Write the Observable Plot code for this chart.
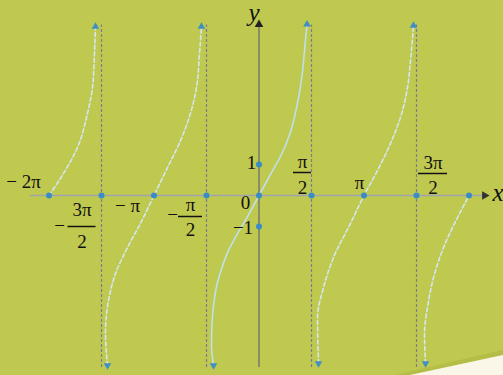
<!DOCTYPE html>
<html><head><meta charset="utf-8">
<script src="https://cdn.jsdelivr.net/npm/d3@7"></script>
<script src="https://cdn.jsdelivr.net/npm/@observablehq/plot@0.6"></script>
<style>
html,body{margin:0;padding:0;background:#bfc84f;width:503px;height:375px;overflow:hidden}
#wrap{position:relative;width:503px;height:375px}
#shade{position:absolute;left:0;top:0;width:503px;height:375px;background:#aeb742;clip-path:polygon(395px 375px,503px 350px,503px 355px,410px 375px);opacity:0.6}
#corner{position:absolute;left:0;top:0;width:503px;height:375px;background:#fbf7e8;clip-path:polygon(410px 375px,503px 355px,503px 375px)}
#chart{position:absolute;left:0;top:0}
#chart text{font-family:"Liberation Serif","Times New Roman",serif}
</style></head>
<body>
<div id="wrap"><div id="shade"></div><div id="corner"></div><div id="chart"></div></div>
<script>
const PI = Math.PI;

// tangent branches (x in radians, y in units)
const branch1X = [-2*PI, -5.850, -5.431, -5.132, -4.982, -4.922, -4.892];
const branch1Y = [0, 0.71, 1.55, 2.65, 3.48, 4.58, 5.45];
const branch2X = [-4.533, -4.593, -4.503, -4.294, -3.935, -3.546, -PI, -2.738, -2.349, -2.050, -1.870, -1.780, -1.721];
const branch2Y = [-5.48, -4.45, -3.39, -2.52, -1.68, -0.90, 0, 0.90, 1.77, 2.65, 3.48, 4.58, 5.45];
const branch3X = [-1.361, -1.421, -1.406, -1.346, -1.257, -1.107, -0.928, -0.658, -0.359, 0, 0.359, 0.658, 0.928, 1.137, 1.287, 1.376, 1.436];
const branch3Y = [-5.48, -4.84, -4.13, -3.42, -2.87, -2.32, -1.81, -1.26, -0.71, 0, 0.71, 1.29, 2.00, 2.90, 3.87, 4.84, 5.52];
const branch4X = [1.780, 1.751, 1.930, 2.229, 2.738, PI, 3.546, 3.935, 4.234, 4.443, 4.533, 4.623];
const branch4Y = [-5.42, -3.94, -2.97, -2.00, -0.90, 0, 0.81, 1.68, 2.52, 3.48, 4.35, 5.48];
const branch5X = [4.982, 4.952, 5.042, 5.222, 5.521, 5.940, 2*PI];
const branch5Y = [-5.42, -4.45, -3.61, -2.65, -1.68, -0.71, 0];

// asymptotes, zeros, unit points
const asymptotes = [-3*PI/2, -PI/2, PI/2, 3*PI/2];
const zeroX = [-2*PI, -3*PI/2, -PI, -PI/2, 0, PI/2, PI, 3*PI/2, 2*PI];
const unitY = [1, -1];

// axis extents
const axisX = [-6.84, 6.72];
const axisY = [-5.55, 5.45];

// labels
const simpleText = ["− 2π", "− π", "0", "π"];
const simpleX = [-2*PI, -PI, 0, PI];
const unitText = ["1", "−1"];
const fracSign = ["−", "−", "", ""];
const fracNum = ["3π", "π", "π", "3π"];
const fracDen = ["2", "2", "2", "2"];
const fracX = [-3*PI/2, -PI/2, PI/2, 3*PI/2];
const axisNames = ["x", "y"];

// ---- layout (pixel offsets) ----
const SX = 420 / (4*PI);
const AX = 195; // axis pixel row
const simpleLayout = [[-25.5, -8], [-26.5, 16], [-13.5, 13], [-4.5, -7]];
const unitLayout = [[-7.5, 4], [-16, 7]];
// [signDx, signBase, cx, numBase, barHalf, barY, denBase]
const fracLayout = [
  [-42, 231, -19.5, 215, 14, 226, 247],
  [-34, 220, -16, 210, 12, 216, 235],
  [0, 0, -9, 167, 9, 172, 193],
  [0, 0, 16.5, 168, 14.5, 173, 193]
];

const serif = "'Liberation Serif', 'Times New Roman', serif";
const tOpts = {fontFamily: serif, fontSize: 19, fill: "#111", lineAnchor: "bottom", textAnchor: "middle"};

function toPts(xs, ys, b) { return xs.map((x, i) => ({x, y: ys[i], b})); }
const dashed = [
  ...toPts(branch1X, branch1Y, 1), ...toPts(branch2X, branch2Y, 2),
  ...toPts(branch4X, branch4Y, 4), ...toPts(branch5X, branch5Y, 5)
];
const solid = toPts(branch3X, branch3Y, 3);

const allBranches = [[branch1X, branch1Y], [branch2X, branch2Y], [branch3X, branch3Y], [branch4X, branch4Y], [branch5X, branch5Y]];
const ends = [];
for (const [bx, by] of allBranches) {
  for (const i of [0, bx.length - 1]) {
    if (by[i] !== 0) ends.push({x: bx[i], y: by[i], up: by[i] > 0});
  }
}

const marks = [];
// asymptotes
marks.push(Plot.ruleX(asymptotes, {y1: axisY[0], y2: axisY[1] + 0.05, stroke: "#7b7d8e", strokeWidth: 1.2, strokeDasharray: "3,2"}));
// axes
marks.push(Plot.ruleY([0], {x1: axisX[0], x2: axisX[1], stroke: "#9ea3ae", strokeWidth: 1.3}));
marks.push(Plot.ruleX([0], {y1: axisY[0], y2: axisY[1], stroke: "#6a6c72", strokeWidth: 1.3}));
marks.push(Plot.dot([{x: axisX[1], y: 0}], {x: "x", y: "y", symbol: "triangle", rotate: 90, r: 3.2, fill: "#333", dx: 1}));
marks.push(Plot.dot([{x: 0, y: axisY[1]}], {x: "x", y: "y", symbol: "triangle", r: 3.2, fill: "#222", dy: -2}));
// curves
marks.push(Plot.line(dashed, {x: "x", y: "y", z: "b", curve: "monotone-y", stroke: "#d4e7ef", strokeWidth: 1.6, strokeDasharray: "4,2.5"}));
marks.push(Plot.line(solid, {x: "x", y: "y", curve: "monotone-y", stroke: "#bfe0ec", strokeWidth: 1.6}));
// curve end arrows
marks.push(Plot.dot(ends, {x: "x", y: "y", symbol: "triangle", rotate: d => d.up ? 0 : 180, r: 2.8, fill: "#3f8fc4"}));
// points
marks.push(Plot.dot(zeroX, {x: d => d, y: 0, r: 3, fill: "#3a8cc6"}));
marks.push(Plot.dot(unitY, {x: 0, y: d => d, r: 3, fill: "#3a8cc6"}));

// simple labels
simpleText.forEach((t, i) => {
  marks.push(Plot.text([t], {x: () => simpleX[i], y: () => 0, text: d => d, dx: simpleLayout[i][0], dy: simpleLayout[i][1], ...tOpts}));
});
unitText.forEach((t, i) => {
  marks.push(Plot.text([t], {x: () => 0, y: () => unitY[i], text: d => d, dx: unitLayout[i][0], dy: unitLayout[i][1], ...tOpts}));
});
// fractions
fracNum.forEach((num, i) => {
  const [sdx, sb, cx, nb, bh, by, db] = fracLayout[i];
  const xv = fracX[i];
  if (fracSign[i]) marks.push(Plot.text([fracSign[i]], {x: () => xv, y: () => 0, text: d => d, dx: sdx, dy: sb - AX, ...tOpts}));
  marks.push(Plot.text([num], {x: () => xv, y: () => 0, text: d => d, dx: cx, dy: nb - AX, ...tOpts}));
  marks.push(Plot.text([fracDen[i]], {x: () => xv, y: () => 0, text: d => d, dx: cx, dy: db - AX, ...tOpts}));
  marks.push(Plot.ruleY([0], {x1: xv + (cx - bh) / SX, x2: xv + (cx + bh) / SX, dy: by - AX, stroke: "#111", strokeWidth: 1.5}));
});
// axis names
marks.push(Plot.text([axisNames[0]], {x: () => 2*PI, y: () => 0, text: d => d, dx: 29, dy: 5, ...tOpts, fontSize: 25, fontStyle: "italic"}));
marks.push(Plot.text([axisNames[1]], {x: () => 0, y: () => 0, text: d => d, dx: -5, dy: -175, ...tOpts, fontSize: 25, fontStyle: "italic"}));

const chart = Plot.plot({
  width: 503, height: 375,
  margin: 0,
  x: {type: "linear", domain: [-2*PI, 2*PI], range: [48.5, 468.5], axis: null},
  y: {type: "linear", domain: [-1, 1], range: [226, 164], axis: null},
  style: {background: "transparent", overflow: "visible", fontFamily: serif},
  marks
});
document.getElementById("chart").appendChild(chart);
</script>
</body></html>
